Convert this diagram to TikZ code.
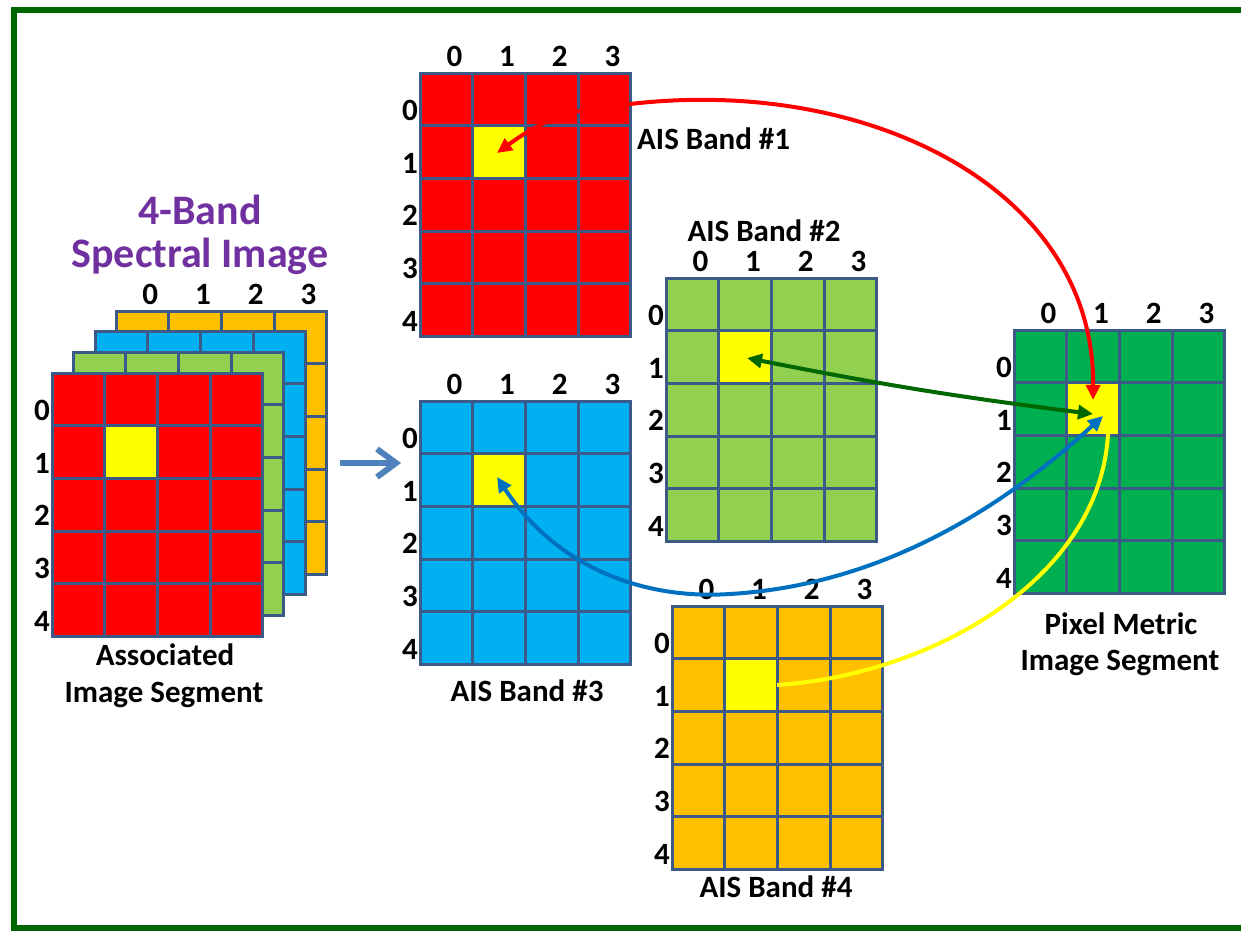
\documentclass[tikz,border=0pt]{standalone}
\usepackage{fontspec}
\setmainfont{Carlito}
\usetikzlibrary{arrows.meta}

\definecolor{framegreen}{HTML}{006600}
\definecolor{gridcol}{HTML}{3B5A87}
\definecolor{bandred}{HTML}{FF0000}
\definecolor{bandgreen}{HTML}{92D050}
\definecolor{bandblue}{HTML}{00B0F0}
\definecolor{bandorange}{HTML}{FFC000}
\definecolor{pmgreen}{HTML}{00B050}
\definecolor{hilite}{HTML}{FFFF00}
\definecolor{titlepurple}{HTML}{7030A0}
\definecolor{linkgreen}{HTML}{006600}
\definecolor{linkblue}{HTML}{0070C0}
\definecolor{flowblue}{HTML}{4F81BD}

\newcommand{\cellsz}{52.7}

% a 4 x 5 band of cells; #4 = 1 marks pixel (1,1) yellow
\newcommand{\bandcells}[4]{%
  \fill[#3] (#1,#2) rectangle ++(4*\cellsz,5*\cellsz);
  \ifnum#4=1 \fill[hilite] (#1+\cellsz,#2+\cellsz) rectangle ++(\cellsz,\cellsz);\fi
  \foreach \i in {1,2,3} \draw[gridline] (#1+\i*\cellsz,#2) -- ++(0,5*\cellsz);
  \foreach \j in {1,2,3,4} \draw[gridline] (#1,#2+\j*\cellsz) -- ++(4*\cellsz,0);
  \draw[gridline] (#1,#2) rectangle ++(4*\cellsz,5*\cellsz);
}
% column and row indices of a band
\newcommand{\collabels}[3]{%
  \foreach \i in {0,...,3}
    \node[idx] (#3-c\i) at (#1+\i*\cellsz+0.5*\cellsz+8,#2-17) {\i};
}
\newcommand{\rowlabels}[3]{%
  \foreach \j in {0,...,4}
    \node[idx] (#3-r\j) at (#1-10,#2+\j*\cellsz+0.5*\cellsz+11) {\j};
}

\tikzset{
  gridline/.style={draw=gridcol, line width=3pt, line cap=rect},
  idx/.style={font=\bfseries\fontsize{31}{36}\selectfont, inner sep=0pt},
  caption/.style={font=\bfseries\fontsize{31}{36}\selectfont, inner sep=0pt, anchor=base},
  headline/.style={font=\bfseries\fontsize{42}{48}\selectfont, text=titlepurple, inner sep=0pt, anchor=base},
  link/.style={line width=4pt, {Triangle[length=15pt,width=14pt]}-{Triangle[length=15pt,width=14pt]}},
  flowline/.style={draw=flowblue, line width=6pt, line join=miter},
}

\begin{document}
\begin{tikzpicture}[x=1pt,y=-1pt]
\useasboundingbox (0,0) rectangle (1241,930);

% outer frame
\draw[framegreen, line width=6pt] (14,10) rectangle (1270,928);

% stacked four-band image
\bandcells{116}{311}{bandorange}{0}
\bandcells{95}{331}{bandblue}{0}
\bandcells{73}{352}{bandgreen}{0}
\bandcells{52}{373}{bandred}{1}
\collabels{116}{311}{st}
\rowlabels{52}{373}{st}
\node[headline] (title1) at (200,224) {4-Band};
\node[headline] (title2) at (200,267) {Spectral Image};
\node[caption] (ais1) at (165,665) {Associated};
\node[caption] (ais2) at (164,702) {Image Segment};

% flow arrow with an open chevron head
\coordinate (flowA) at (340,463);
\coordinate (flowB) at (396,463);
\draw[flowline] (flowA) -- (flowB);
\draw[flowline] (flowB) ++(-19,-14) -- (flowB) -- ++(-19,14);

% AIS band 1
\bandcells{420}{73}{bandred}{1}
\collabels{420}{73}{b1}
\rowlabels{420}{73}{b1}
\node[caption, anchor=base west] (b1cap) at (637,149) {AIS Band \#1};

% AIS band 2
\bandcells{666}{278}{bandgreen}{1}
\collabels{666}{278}{b2}
\rowlabels{666}{278}{b2}
\node[caption] (b2cap) at (764,241) {AIS Band \#2};

% AIS band 3
\bandcells{420}{401}{bandblue}{1}
\collabels{420}{401}{b3}
\rowlabels{420}{401}{b3}
\node[caption] (b3cap) at (527,701) {AIS Band \#3};

% AIS band 4
\bandcells{672}{606}{bandorange}{1}
\collabels{672}{606}{b4}
\rowlabels{672}{606}{b4}
\node[caption] (b4cap) at (776,897) {AIS Band \#4};

% pixel metric image segment
\bandcells{1014}{330}{pmgreen}{1}
\collabels{1014}{330}{pm}
\rowlabels{1014}{330}{pm}
\node[caption] (pmcap1) at (1121,634) {Pixel Metric};
\node[caption] (pmcap2) at (1120,670) {Image Segment};

% end points of the links
\coordinate (r1) at (497,153);
\coordinate (pmR) at (1093,400);
\coordinate (g2) at (747,358);
\coordinate (pmG) at (1093,414);
\coordinate (b3) at (497,477);
\coordinate (pmB) at (1103,416);
\coordinate (y4) at (777,685);
\coordinate (pmY) at (1108,434);

% links between the highlighted pixels
\draw[link, bandred] (r1) .. controls (545,118) and (575,108) .. (630,104)
  .. controls (870,76) and (1095,190) .. (pmR);
\draw[link, linkgreen] (g2) to[bend right=2] (pmG);
\draw[link, linkblue] (b3) .. controls (555,565) and (640,600) .. (730,594)
  .. controls (880,585) and (1000,510) .. (pmB);
\draw[hilite, line width=4pt] (y4) .. controls (930,675) and (1100,580) .. (pmY);
\end{tikzpicture}
\end{document}
